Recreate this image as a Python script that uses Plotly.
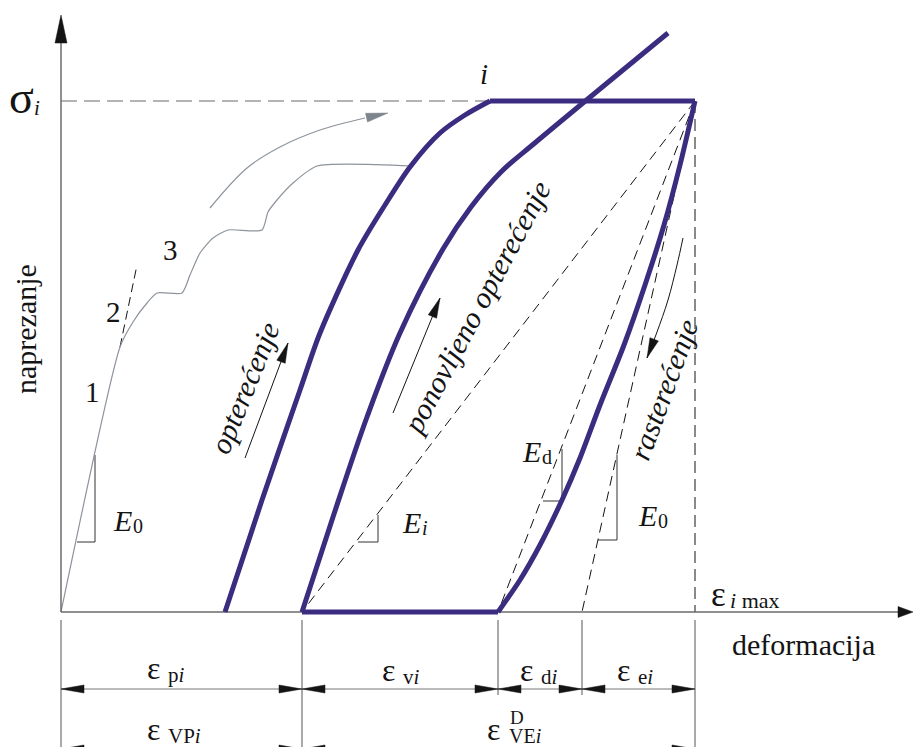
import math
import plotly.graph_objects as go

# Drawing units: strain and stress both measured from the axes corner,
# one unit = one screen pixel so slopes look right.
SIG_I = 511
EPS_MAX = 634
# dimension stations along the strain axis: 0, eps_p, eps_p+eps_v, ..+eps_d, ..+eps_e
EPS_STATIONS = [0, 241, 437, 521, 634]

# first loading ("opterećenje")
load_eps = [164, 201, 239, 259, 297, 324, 349, 379, 404, 429]
load_sig = [0, 112, 222, 279, 362, 407, 445, 479, 497, 511]

# repeated loading ("ponovljeno opterećenje")
reload_eps = [241, 272, 306, 339, 382, 410, 440, 475, 607]
reload_sig = [0, 95, 195, 279, 363, 405, 440, 470, 579]

# unloading ("rasterećenje")
unload_eps = [634, 619, 603, 584, 563, 539, 519, 501, 479, 459, 437]
unload_sig = [511, 447, 387, 327, 267, 207, 154, 112, 67, 32, 0]

# thin grey loading path 1-2-3
path_eps = [0, 59, 72, 86, 96, 121, 129, 139, 152, 167, 201, 207, 216, 232, 256, 351]
path_sig = [0, 265, 290, 309, 319, 319, 337, 359, 374, 382, 382, 400, 412, 429, 446, 446]
e0_ext = ([59, 76], [265, 347])

# grey curved arrow
garrow_eps = [149, 186, 219, 259, 304, 327]
garrow_sig = [404, 444, 465, 482, 494, 499]

# text arrows
arr_load = ([184, 227], [154, 269])
arr_reload = ([332, 379], [199, 314])
arr_unload = ([622, 616, 607, 596, 586], [374, 347, 312, 280, 254])

# slope triangles (E0 at origin, Ei, Ed, E0 at unloading)
tri_e0a = ([16, 34, 34], [70, 70, 157])
tri_ei = ([297, 317, 317], [70, 70, 97])
tri_ed = ([482, 501, 501], [111, 111, 163])
tri_e0b = ([537, 556, 556], [72, 72, 157])

PURPLE = "#3b2c80"
GREY = "#8d949c"
AXIS = "#6b6b6b"
INK = "#141414"
SERIF = "Liberation Serif"

fig = go.Figure()


def line(xs, ys, color=INK, width=1.0, dash=None, shape="linear", smoothing=1.0):
    fig.add_trace(go.Scatter(
        x=xs, y=ys, mode="lines", hoverinfo="skip",
        line=dict(color=color, width=width, dash=dash, shape=shape,
                  smoothing=smoothing if shape == "spline" else None),
    ))


def head(tip_x, tip_y, from_x, from_y, length, half, color=INK):
    dx, dy = tip_x - from_x, tip_y - from_y
    d = math.hypot(dx, dy)
    ux, uy = dx / d, dy / d
    bx, by = tip_x - length * ux, tip_y - length * uy
    nx, ny = -uy, ux
    fig.add_trace(go.Scatter(
        x=[tip_x, bx + half * nx, bx - half * nx, tip_x],
        y=[tip_y, by + half * ny, by - half * ny, tip_y],
        mode="lines", fill="toself", fillcolor=color,
        line=dict(color=color, width=0.5), hoverinfo="skip",
    ))


# sigma_i dashed level
line([0, load_eps[-1]], [SIG_I, SIG_I], color=AXIS, width=1.2, dash="16px,7px")

# secant / tangent dashed lines from the peak
for foot in (EPS_STATIONS[1], EPS_STATIONS[2], EPS_STATIONS[3]):
    line([EPS_MAX, foot], [SIG_I, 0], dash="10px,6px")
line([EPS_MAX, EPS_MAX], [SIG_I, 0], dash="12px,6px")
line(*e0_ext, dash="9px,5px")

# slope triangles
for t in (tri_e0a, tri_ei, tri_ed, tri_e0b):
    line(*t, color="#333333", width=1)

# grey loading path and arrow
line(path_eps, path_sig, color=GREY, width=1.2, shape="spline", smoothing=0.6)
line(garrow_eps[:-1], garrow_sig[:-1], color=GREY, width=1.2, shape="spline")
head(garrow_eps[-1], garrow_sig[-1], garrow_eps[-2], garrow_sig[-2], 22, 4.5, color="#7d848c")

# text arrows
for xs, ys in (arr_load, arr_reload, arr_unload):
    line(xs, ys, width=1, shape="spline")
    head(xs[-1], ys[-1], xs[-2], ys[-2], 20, 4.5)

# axes
line([0, 0], [0, 575], color=AXIS, width=1.5)
line([0, 840], [0, 0], color=AXIS, width=1.5)
head(0, 597, 0, 0, 28, 6)
head(852, 0, 0, 0, 15, 5.5)

# dimension lines
ROW1, ROW2 = -77, -137
for s in EPS_STATIONS:
    bottom = -140 if s in (0, EPS_STATIONS[1], EPS_MAX) else -83
    line([s, s], [-8, bottom], color="#555555", width=1)
for row, stations in ((ROW1, EPS_STATIONS), (ROW2, [0, EPS_STATIONS[1], EPS_MAX])):
    line([stations[0], stations[-1]], [row, row], color="#777777", width=1)
    for a, b in zip(stations[:-1], stations[1:]):
        head(a, row, b, row, 23, 4)
        head(b, row, a, row, 23, 4)

# thick purple loops
line(load_eps, load_sig, color=PURPLE, width=5, shape="spline", smoothing=0.8)
line([load_eps[-1], EPS_MAX], [SIG_I, SIG_I], color=PURPLE, width=5)
line(reload_eps, reload_sig, color=PURPLE, width=5, shape="spline", smoothing=1.0)
line([reload_eps[0], unload_eps[-1]], [0, 0], color=PURPLE, width=5)
line(unload_eps, unload_sig, color=PURPLE, width=5, shape="spline", smoothing=0.8)

ann = []


def txt(x, y, s, size, italic=False, angle=0, xanchor="center"):
    if italic:
        s = f"<i>{s}</i>"
    ann.append(dict(x=x, y=y, text=s, showarrow=False, textangle=angle,
                    xanchor=xanchor, yanchor="middle",
                    font=dict(family=SERIF, size=size, color=INK)))


# axis titles and level labels
txt(-40, 515, "σ", 46)
txt(-24, 504, "i", 21, italic=True)
txt(423, 538, "i", 29, italic=True)
txt(-36, 283, "naprezanje", 30, angle=-90)
txt(742, -32, "deformacija", 30)
txt(657, 18, "ε", 35)
txt(667, 12, "<i>i</i> max", 22, xanchor="left")

# path stage numbers
txt(31, 220, "1", 29)
txt(52, 300, "2", 29)
txt(109, 362, "3", 29)

# moduli
for ex, ey, sub in ((61, 92, "0"), (350, 90, "<i>i</i>"), (470, 161, "d"), (586, 97, "0")):
    txt(ex, ey, "E", 30, italic=True)
    txt(ex + 9, ey - 6, sub, 20, xanchor="left")

# rotated labels
txt(183, 224, "opterećenje", 30, italic=True, angle=-68)
txt(415, 305, "ponovljeno opterećenje", 30, italic=True, angle=-62)
txt(602, 222, "rasterećenje", 30, italic=True, angle=-70)

# dimension labels
for ex, ey, sub in ((92, -56, "p<i>i</i>"), (327, -58, "v<i>i</i>"),
                    (465, -58, "d<i>i</i>"), (562, -58, "e<i>i</i>"),
                    (92, -117, "VP<i>i</i>")):
    txt(ex, ey, "ε", 32)
    txt(ex + 13, ey - 7, sub, 21, xanchor="left")
txt(432, -117, "ε", 32)
txt(456, -105, "D", 19)
txt(446, -124, "VE<i>i</i>", 20, xanchor="left")

fig.update_layout(
    width=914, height=747,
    margin=dict(l=0, r=0, t=0, b=0),
    paper_bgcolor="white", plot_bgcolor="white",
    showlegend=False,
    annotations=ann,
    xaxis=dict(range=[-61, 853], visible=False, fixedrange=True),
    yaxis=dict(range=[-135, 612], visible=False, fixedrange=True),
)

# the page body has a default 8px margin; drop it so the drawing sits at 0,0
fig.write_html("out.html", config={"displayModeBar": False},
               post_script="document.body.style.margin='0';")
